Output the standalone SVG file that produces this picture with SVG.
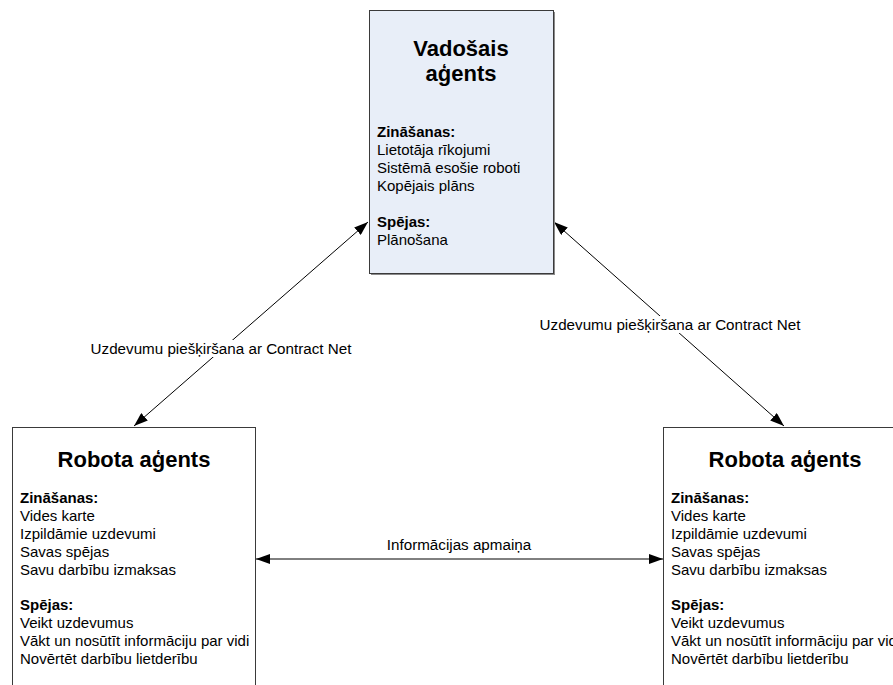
<svg xmlns="http://www.w3.org/2000/svg" width="893" height="685" viewBox="0 0 893 685">
  <style>
    .box { stroke: #3a3a3a; stroke-width: 1; }
    .title { font-family: "Liberation Sans", Arial, sans-serif; font-size: 22px; font-weight: bold; fill: #000; text-anchor: middle; }
    .head { font-family: "Liberation Sans", Arial, sans-serif; font-size: 15px; font-weight: bold; fill: #000; }
    .body { font-family: "Liberation Sans", Arial, sans-serif; font-size: 15px; fill: #000; }
    .label { font-family: "Liberation Sans", Arial, sans-serif; font-size: 15.2px; fill: #000; text-anchor: middle; }
    .conn { stroke: #000; stroke-width: 1; fill: none; marker-start: url(#arrow); marker-end: url(#arrow); }
  </style>
  <defs>
    <marker id="arrow" viewBox="0 0 14 10" refX="14" refY="5" markerWidth="14" markerHeight="10" markerUnits="userSpaceOnUse" orient="auto-start-reverse">
      <path d="M0,0 L14,5 L0,10 Z" fill="#000"/>
    </marker>
  </defs>
  <rect width="893" height="685" fill="#fff"/>

  <!-- Connectors -->
  <g id="connectors">
    <line class="conn" x1="134" y1="426" x2="368" y2="222"/>
    <line class="conn" x1="554" y1="222" x2="784" y2="426"/>
    <line class="conn" x1="256" y1="559" x2="663" y2="559"/>
    <rect x="90" y="340" width="262" height="17" fill="#fff"/>
    <text class="label" x="221" y="354">Uzdevumu piešķiršana ar Contract Net</text>
    <rect x="539" y="316" width="262" height="17" fill="#fff"/>
    <text class="label" x="670" y="330">Uzdevumu piešķiršana ar Contract Net</text>
    <text class="label" x="459" y="550">Informācijas apmaiņa</text>
  </g>

  <!-- Leading agent -->
  <g id="vadosais-agents">
    <rect x="371" y="12" width="184" height="263" fill="#8a8a8a"/>
    <rect class="box" x="369.5" y="10.5" width="184" height="263" fill="#e8eef8"/>
    <text class="title" x="461" y="56">Vadošais</text>
    <text class="title" x="461" y="81">aģents</text>
    <text class="head" x="377" y="137">Zināšanas:</text>
    <text class="body" x="377" y="155">Lietotāja rīkojumi</text>
    <text class="body" x="377" y="173">Sistēmā esošie roboti</text>
    <text class="body" x="377" y="191">Kopējais plāns</text>
    <text class="head" x="377" y="227">Spējas:</text>
    <text class="body" x="377" y="245">Plānošana</text>
  </g>

  <!-- Robot agent, left -->
  <g id="robota-agents-1">
    <rect class="box" x="12.5" y="427.5" width="243" height="270" fill="#fff"/>
    <text class="title" x="134" y="467">Robota aģents</text>
    <text class="head" x="20" y="503">Zināšanas:</text>
    <text class="body" x="20" y="521">Vides karte</text>
    <text class="body" x="20" y="539">Izpildāmie uzdevumi</text>
    <text class="body" x="20" y="557">Savas spējas</text>
    <text class="body" x="20" y="575">Savu darbību izmaksas</text>
    <text class="head" x="20" y="610">Spējas:</text>
    <text class="body" x="20" y="628">Veikt uzdevumus</text>
    <text class="body" x="20" y="646">Vākt un nosūtīt informāciju par vidi</text>
    <text class="body" x="20" y="664">Novērtēt darbību lietderību</text>
  </g>

  <!-- Robot agent, right -->
  <g id="robota-agents-2">
    <rect class="box" x="663.5" y="427.5" width="243" height="270" fill="#fff"/>
    <text class="title" x="785" y="467">Robota aģents</text>
    <text class="head" x="671" y="503">Zināšanas:</text>
    <text class="body" x="671" y="521">Vides karte</text>
    <text class="body" x="671" y="539">Izpildāmie uzdevumi</text>
    <text class="body" x="671" y="557">Savas spējas</text>
    <text class="body" x="671" y="575">Savu darbību izmaksas</text>
    <text class="head" x="671" y="610">Spējas:</text>
    <text class="body" x="671" y="628">Veikt uzdevumus</text>
    <text class="body" x="671" y="646">Vākt un nosūtīt informāciju par vidi</text>
    <text class="body" x="671" y="664">Novērtēt darbību lietderību</text>
  </g>
</svg>
